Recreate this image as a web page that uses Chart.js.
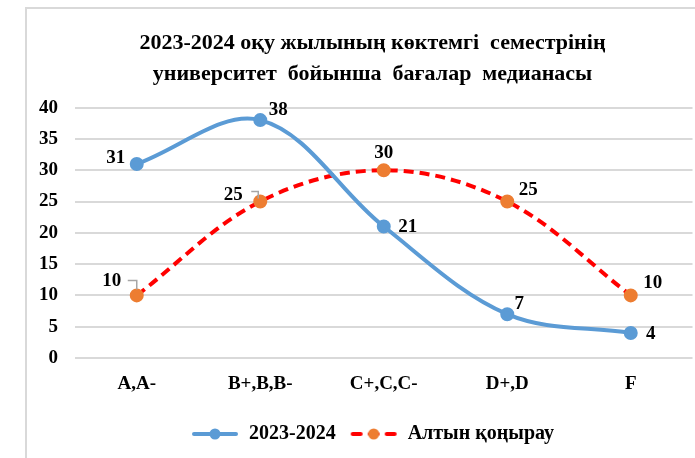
<!DOCTYPE html>
<html>
<head>
<meta charset="utf-8">
<script src="https://cdn.jsdelivr.net/npm/chart.js@4.4.1/dist/chart.umd.min.js"></script>
<style>
  html, body { margin: 0; padding: 0; background: #fff; }
  #wrap { position: relative; width: 695px; height: 458px; overflow: hidden; }
  #frame { position: absolute; left: 25px; top: 7px; width: 800px; height: 600px;
           border-left: 2px solid #d9d9d9; border-top: 2px solid #d9d9d9; }
  #chart { position: absolute; left: 0; top: 0; }
</style>
</head>
<body>
<div id="wrap">
  <div id="frame"></div>
  <canvas id="chart" width="745" height="458"></canvas>
</div>
<script>
const categories = ['A,A-', 'B+,B,B-', 'C+,C,C-', 'D+,D', 'F'];
const series2024 = [31, 38, 21, 7, 4];
const seriesBell = [10, 25, 30, 25, 10];
const seriesNames = ['2023-2024', 'Алтын қоңырау'];
const titleLines = ['2023-2024 оқу жылының көктемгі  семестрінің', 'университет  бойынша  бағалар  медианасы'];

const FONT = '"Liberation Serif", "Times New Roman", serif';
const BLUE = '#5B9BD5';
const RED = '#FF0000';
const ORANGE = '#ED7D31';

// label offsets from each point (dx, dy)
const labelOffsets = [
    [[-21, -6], [18, -10], [24, 1], [12, -10], [20, 1]],
    [[-25, -14], [-27, -6], [0, -17], [21, -11], [22, -12]]
];
// small grey leader lines next to some labels
const leaders = [
    [null, null, null, null, null],
    [[[-9, -15], [0, -15], [0, -6]], [[-9, -10], [-2, -10], [-2, -3]], null, null, null]
];

function legendSample(color, dashed, dotColor) {
    const c = document.createElement('canvas');
    c.width = 48; c.height = 14;
    const g = c.getContext('2d');
    g.strokeStyle = color;
    g.lineWidth = 4;
    g.lineCap = 'round';
    if (dashed) g.setLineDash([8, 9]);
    g.beginPath();
    g.moveTo(3, 7); g.lineTo(45, 7);
    g.stroke();
    g.setLineDash([]);
    g.fillStyle = dotColor;
    g.beginPath();
    g.arc(24, 7, 5.5, 0, Math.PI * 2);
    g.fill();
    return c;
}

const samples = [legendSample(BLUE, false, BLUE), legendSample(RED, true, ORANGE)];

const dataLabels = {
    id: 'dataLabels',
    afterDatasetsDraw(chart) {
        const ctx = chart.ctx;
        ctx.save();
        ctx.font = 'bold 19px ' + FONT;
        ctx.textAlign = 'center';
        ctx.textBaseline = 'middle';
        chart.data.datasets.forEach((ds, di) => {
            const meta = chart.getDatasetMeta(di);
            meta.data.forEach((pt, i) => {
                const off = labelOffsets[di][i];
                ctx.fillStyle = '#000';
                ctx.fillText(String(ds.data[i]), pt.x + off[0], pt.y + off[1]);
                const ld = leaders[di][i];
                if (ld) {
                    ctx.strokeStyle = '#a6a6a6';
                    ctx.lineWidth = 1.5;
                    ctx.beginPath();
                    ld.forEach((p, k) => {
                        if (k === 0) ctx.moveTo(pt.x + p[0], pt.y + p[1]);
                        else ctx.lineTo(pt.x + p[0], pt.y + p[1]);
                    });
                    ctx.stroke();
                }
            });
        });
        ctx.restore();
    }
};

new Chart(document.getElementById('chart'), {
    type: 'line',
    data: {
        labels: categories,
        datasets: [{
            label: seriesNames[0],
            data: series2024,
            borderColor: BLUE,
            backgroundColor: BLUE,
            borderWidth: 4,
            tension: 0.35,
            pointRadius: 5,
            pointBackgroundColor: BLUE,
            pointBorderColor: BLUE
        }, {
            label: seriesNames[1],
            data: seriesBell,
            borderColor: RED,
            backgroundColor: ORANGE,
            borderWidth: 4,
            borderDash: [10, 6],
            tension: 0.35,
            pointRadius: 5,
            pointBackgroundColor: ORANGE,
            pointBorderColor: ORANGE
        }]
    },
    options: {
        responsive: false,
        animation: false,
        events: [],
        layout: { padding: { left: 0, right: 0, top: 0, bottom: 4 } },
        scales: {
            x: {
                offset: true,
                grid: { display: false },
                border: { display: false },
                ticks: { color: '#000', font: { family: FONT, size: 19, weight: 'bold' }, padding: 7 },
                afterFit(s) { s.height = 52; }
            },
            y: {
                min: 0, max: 40,
                ticks: { stepSize: 5, color: '#000', font: { family: FONT, size: 19, weight: 'bold' }, padding: 17 },
                grid: { color: '#d9d9d9', lineWidth: 2, drawTicks: false },
                border: { display: false },
                afterFit(s) { s.width = 75; }
            },
            yr: {
                position: 'right',
                min: 0, max: 40,
                grid: { display: false },
                border: { display: false },
                ticks: { display: false },
                afterFit(s) { s.width = 52.5; }
            }
        },
        plugins: {
            title: {
                display: true,
                text: titleLines,
                color: '#000',
                font: { family: FONT, size: 22, weight: 'bold', lineHeight: 1.4 },
                padding: { top: 28, bottom: 18 }
            },
            legend: {
                position: 'bottom',
                labels: {
                    usePointStyle: true,
                    pointStyleWidth: 48,
                    color: '#000',
                    font: { family: FONT, size: 20, weight: 'bold' },
                    padding: 14,
                    generateLabels(chart) {
                        return chart.data.datasets.map((ds, i) => ({
                            text: ds.label,
                            pointStyle: samples[i],
                            datasetIndex: i,
                            fontColor: '#000',
                            lineWidth: 0,
                            hidden: false
                        }));
                    }
                }
            },
            tooltip: { enabled: false }
        }
    },
    plugins: [dataLabels]
});
</script>
</body>
</html>
